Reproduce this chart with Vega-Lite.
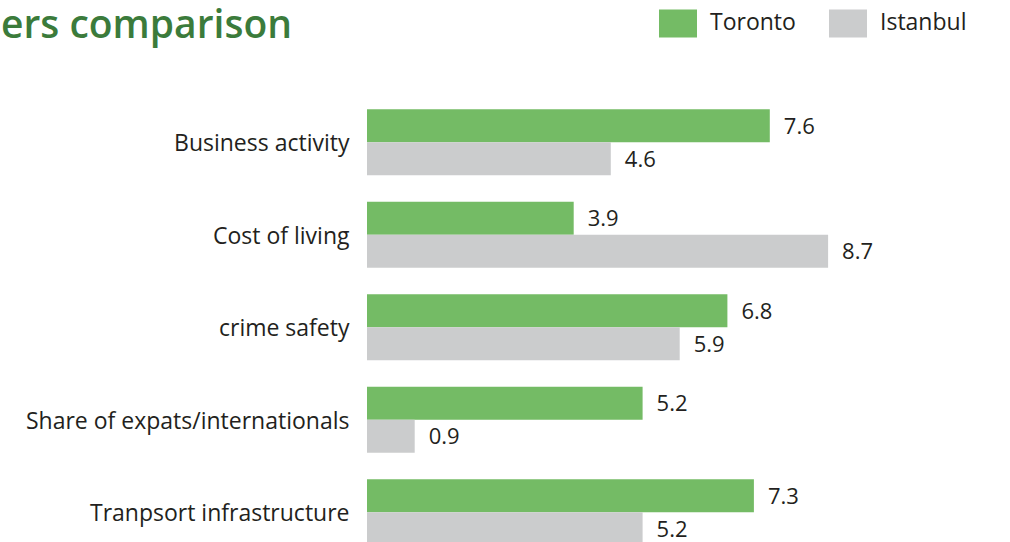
{
  "$schema": "https://vega.github.io/schema/vega-lite/v6.json",
  "width": 530,
  "height": 446,
  "autosize": {"type": "none"},
  "padding": {"left": 367, "top": 96, "right": 113, "bottom": 0},
  "background": "white",
  "title": {
    "text": "ers comparison",
    "anchor": "start",
    "frame": "group",
    "dx": -366,
    "dy": 93,
    "offset": 20,
    "baseline": "alphabetic",
    "font": "Open Sans",
    "fontSize": 39,
    "fontWeight": 600,
    "color": "#3b7b3b"
  },
  "data": {
    "values": [
      {"category": "Business activity", "city": "Toronto", "value": 7.6},
      {"category": "Business activity", "city": "Istanbul", "value": 4.6},
      {"category": "Cost of living", "city": "Toronto", "value": 3.9},
      {"category": "Cost of living", "city": "Istanbul", "value": 8.7},
      {"category": "crime safety", "city": "Toronto", "value": 6.8},
      {"category": "crime safety", "city": "Istanbul", "value": 5.9},
      {"category": "Share of expats/internationals", "city": "Toronto", "value": 5.2},
      {"category": "Share of expats/internationals", "city": "Istanbul", "value": 0.9},
      {"category": "Tranpsort infrastructure", "city": "Toronto", "value": 7.3},
      {"category": "Tranpsort infrastructure", "city": "Istanbul", "value": 5.2}
    ]
  },
  "encoding": {
    "y": {
      "field": "category",
      "type": "nominal",
      "sort": null,
      "title": null,
      "scale": {"range": [0, 462.5], "paddingInner": 0.286, "paddingOuter": 0.143},
      "axis": {
        "domain": false,
        "ticks": false,
        "labelPadding": 18,
        "labelOffset": 2,
        "labelFont": "Open Sans",
        "labelFontSize": 23,
        "labelColor": "#231f20",
        "labelLimit": 400
      }
    },
    "x": {
      "field": "value",
      "type": "quantitative",
      "title": null,
      "scale": {"domain": [0, 10], "nice": false},
      "axis": null
    },
    "yOffset": {
      "field": "city",
      "type": "nominal",
      "sort": ["Toronto", "Istanbul"],
      "scale": {"paddingInner": 0, "paddingOuter": 0}
    }
  },
  "layer": [
    {
      "mark": {"type": "bar", "clip": false},
      "encoding": {
        "color": {
          "field": "city",
          "type": "nominal",
          "sort": ["Toronto", "Istanbul"],
          "scale": {"domain": ["Toronto", "Istanbul"], "range": ["#74bb65", "#cbcccd"]},
          "legend": {
            "title": null,
            "orient": "none",
            "direction": "horizontal",
            "legendX": 292,
            "legendY": -92,
            "padding": 0,
            "symbolType": "M-1,-0.737H1V0.737H-1Z",
            "symbolSize": 1444,
            "symbolStrokeWidth": 0,
            "labelOffset": 13,
            "columnPadding": 33,
            "labelFont": "Open Sans",
            "labelFontSize": 23,
            "labelColor": "#231f20"
          }
        }
      }
    },
    {
      "mark": {
        "type": "text",
        "align": "left",
        "baseline": "middle",
        "dx": 14,
        "dy": 1,
        "font": "Open Sans",
        "fontSize": 22,
        "color": "#231f20",
        "clip": false
      },
      "encoding": {
        "text": {"field": "value", "type": "quantitative", "format": ".1f"}
      }
    }
  ],
  "config": {"view": {"stroke": null}}
}
